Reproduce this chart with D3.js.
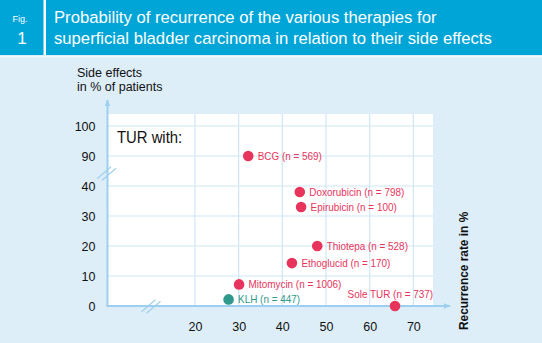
<!DOCTYPE html>
<html><head><meta charset="utf-8">
<script src="https://cdn.jsdelivr.net/npm/d3@7"></script>
<style>body{margin:0;background:#ddeef9;}svg{display:block;font-family:"Liberation Sans",Arial,sans-serif;}</style>
</head><body><svg id="c" width="542" height="343"></svg>
<script>
const names = ["BCG (n = 569)","Doxorubicin (n = 798)","Epirubicin (n = 100)","Thiotepa (n = 528)","Ethoglucid (n = 170)","Mitomycin (n = 1006)","KLH (n = 447)","Sole TUR (n = 737)"];
const recurrence = [32.2, 44.0, 44.3, 48.0, 42.2, 30.1, 27.7, 65.8];
const sideEffects = [90, 38, 33, 20, 14.3, 7.2, 2.2, 0];
const groups = ["red","red","red","red","red","red","teal","red"];
const xTicks = [20, 30, 40, 50, 60, 70];
const yTicks = [0, 10, 20, 30, 40, 90, 100];
const titleLines = ["Probability of recurrence of the various therapies for","superficial bladder carcinoma in relation to their side effects"];

const svg = d3.select("#c");
const colors = {red:"#e8345c", teal:"#2f9a8c"};
const axisCol = "#9dd0ee", gridCol = "#cfe7f6";

function cond(sel, f){
  sel.each(function(){ const w=this.getComputedTextLength(); this.setAttribute("textLength", w*f); this.setAttribute("lengthAdjust","spacingAndGlyphs"); });
}

// header
svg.append("rect").attr("x",0).attr("y",0).attr("width",542).attr("height",55).attr("fill","#00a5d8");
svg.append("rect").attr("x",0).attr("y",56).attr("width",542).attr("height",1.5).attr("fill","#eef7fc");
svg.append("rect").attr("x",43.5).attr("y",0).attr("width",2.5).attr("height",55).attr("fill","#fff");
svg.append("text").attr("x",20).attr("y",21.5).attr("text-anchor","middle").attr("fill","#fff").attr("font-size",9).text("Fig.");
svg.append("text").attr("x",22).attr("y",44).attr("text-anchor","middle").attr("fill","#fff").attr("font-size",17).text("1");
const tl = svg.append("g").selectAll("text").data(titleLines).join("text")
  .attr("x",54).attr("y",(d,i)=>23+i*20.7).attr("fill","#fff").attr("font-size",17.4).text(d=>d);
cond(tl, 0.958);

const x = d3.scaleLinear().domain([0, 74.5]).range([107.6, 433]);
const y = d3.scaleLinear().domain([0, 40, 90, 100]).range([306, 186, 156, 126]);

// plot area
svg.append("rect").attr("x",107.5).attr("y",114).attr("width",433-107.5).attr("height",306-114).attr("fill","#fff");
// grid
svg.append("g").selectAll("line").data(xTicks).join("line")
  .attr("x1",d=>x(d)).attr("x2",d=>x(d)).attr("y1",114).attr("y2",306).attr("stroke",gridCol).attr("stroke-width",1.2);
svg.append("g").selectAll("line").data(yTicks.filter(d=>d>0)).join("line")
  .attr("x1",107.5).attr("x2",433).attr("y1",d=>y(d)).attr("y2",d=>y(d)).attr("stroke",gridCol).attr("stroke-width",1.2);

// axes with arrows
const defs = svg.append("defs");
defs.append("marker").attr("id","arr").attr("viewBox","0 0 10 10").attr("refX",9).attr("refY",5)
  .attr("markerWidth",7).attr("markerHeight",7).attr("markerUnits","userSpaceOnUse").attr("orient","auto")
  .append("path").attr("d","M0,1 L10,5 L0,9 Z").attr("fill",axisCol);
svg.append("line").attr("x1",107.5).attr("y1",306).attr("x2",107.5).attr("y2",100).attr("stroke",axisCol).attr("stroke-width",2).attr("marker-end","url(#arr)");
svg.append("line").attr("x1",106.5).attr("y1",306).attr("x2",450).attr("y2",306).attr("stroke",axisCol).attr("stroke-width",2).attr("marker-end","url(#arr)");

// tick labels
const yAxis = d3.axisLeft(y).tickValues(yTicks).tickSize(0).tickPadding(12);
const gy = svg.append("g").attr("transform","translate(107.5,0)").call(yAxis);
gy.select(".domain").remove();
gy.selectAll("text").attr("font-size",12.5).attr("fill","#111").attr("font-family","Liberation Sans, Arial, sans-serif");
const xAxis = d3.axisBottom(x).tickValues(xTicks).tickSize(0).tickPadding(16);
const gx = svg.append("g").attr("transform","translate(0,306)").call(xAxis);
gx.select(".domain").remove();
gx.selectAll("text").attr("font-size",12.5).attr("fill","#111").attr("font-family","Liberation Sans, Arial, sans-serif");

// break marks
function brk(cx, cy){
  [-2.5, 2.5].forEach(o=>{
    svg.append("line").attr("x1",cx-7+o).attr("y1",cy+6+o*0.3).attr("x2",cx+7+o).attr("y2",cy-6+o*0.3)
      .attr("stroke",axisCol).attr("stroke-width",1.1);
  });
}
brk(106.5, 173.5);
brk(151, 306.5);

// axis titles
svg.append("text").attr("x",77).attr("y",77).attr("font-size",12.5).attr("fill","#111").text("Side effects");
svg.append("text").attr("x",77).attr("y",91).attr("font-size",12.5).attr("fill","#111").text("in % of patients");
const xt = svg.append("text").attr("transform","translate(468,330) rotate(-90)").attr("font-size",13.5).attr("font-weight","bold").attr("fill","#111").text("Recurrence rate in %");
cond(xt, 0.88);
const tw = svg.append("text").attr("x",117).attr("y",143).attr("font-size",16.5).attr("fill","#111").text("TUR with:");
cond(tw, 0.9);

// points
const data = names.map((n,i)=>({n, rx:recurrence[i], se:sideEffects[i], g:groups[i]}));
svg.append("g").selectAll("circle").data(data).join("circle")
  .attr("cx",d=>x(d.rx)).attr("cy",d=>y(d.se)).attr("r",5.3).attr("fill",d=>colors[d.g]);
const lb = svg.append("g").selectAll("text").data(data).join("text")
  .attr("x",d=> d.n.startsWith("Sole") ? 433 : x(d.rx)+9.5)
  .attr("y",d=> d.n.startsWith("Sole") ? y(d.se)-8.5 : y(d.se)+4)
  .attr("text-anchor",d=> d.n.startsWith("Sole") ? "end" : "start")
  .attr("font-size",11).attr("fill",d=>colors[d.g]).text(d=>d.n);
cond(lb, 0.9);
</script></body></html>
